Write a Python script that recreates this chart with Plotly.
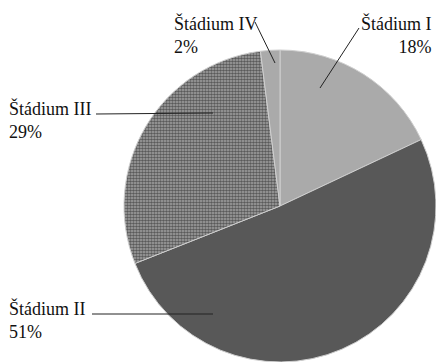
import plotly.graph_objects as go

# Tumour stage distribution
stages = ["I", "II", "III", "IV"]
shares = [18, 51, 29, 2]

W, H = 436, 362
FONT = dict(family="Liberation Serif", size=18, color="#111111")


def px(x):
    return x / W


def py(y):
    return 1 - y / H


fig = go.Figure(
    go.Pie(
        labels=[f"Štádium {s}" for s in stages],
        values=shares,
        sort=False,
        direction="clockwise",
        rotation=0,
        textinfo="none",
        hoverinfo="label+percent",
        marker=dict(
            colors=["#aaaaaa", "#585858", "#a8a8a8", "#aaaaaa"],
            pattern=dict(
                shape=["", "", ".", ""],
                fgcolor=["#aaaaaa", "#585858", "#5a5a5a", "#aaaaaa"],
                bgcolor=["#aaaaaa", "#585858", "#a8a8a8", "#aaaaaa"],
                size=3,
                solidity=0.6,
                fillmode="replace",
            ),
            line=dict(color="#cfcfcf", width=1),
        ),
        domain=dict(x=[px(124), px(436)], y=[py(362), py(50)]),
        showlegend=False,
    )
)

# callout text placement: (left x, first baseline, alignment) in pixels
label_pos = {
    "I": (360, 28, "right"),
    "II": (8, 313, "left"),
    "III": (8, 113, "left"),
    "IV": (173, 28, "left"),
}
# leader lines: (x0, y0, x1, y1) in pixels
leaders = {
    "I": (359, 28, 320, 88),
    "II": (92, 314, 213, 314),
    "III": (96, 114, 213, 113),
    "IV": (255, 22, 275, 63),
}

annotations = []
shapes = []
for s, v in zip(stages, shares):
    lx, base, al = label_pos[s]
    annotations.append(
        dict(
            text=f"Štádium {s}<br>{v}%",
            x=px(lx - 1),
            y=py(base - 17),
            xref="paper",
            yref="paper",
            xanchor="left",
            yanchor="top",
            align=al,
            showarrow=False,
            font=FONT,
        )
    )
    x0, y0, x1, y1 = leaders[s]
    shapes.append(
        dict(
            type="line",
            xref="paper",
            yref="paper",
            x0=px(x0),
            y0=py(y0),
            x1=px(x1),
            y1=py(y1),
            line=dict(color="#222222", width=1),
        )
    )

fig.update_layout(
    width=W,
    height=H,
    margin=dict(l=0, r=0, t=0, b=0),
    paper_bgcolor="white",
    plot_bgcolor="white",
    annotations=annotations,
    shapes=shapes,
)

fig.write_html("out.html")
